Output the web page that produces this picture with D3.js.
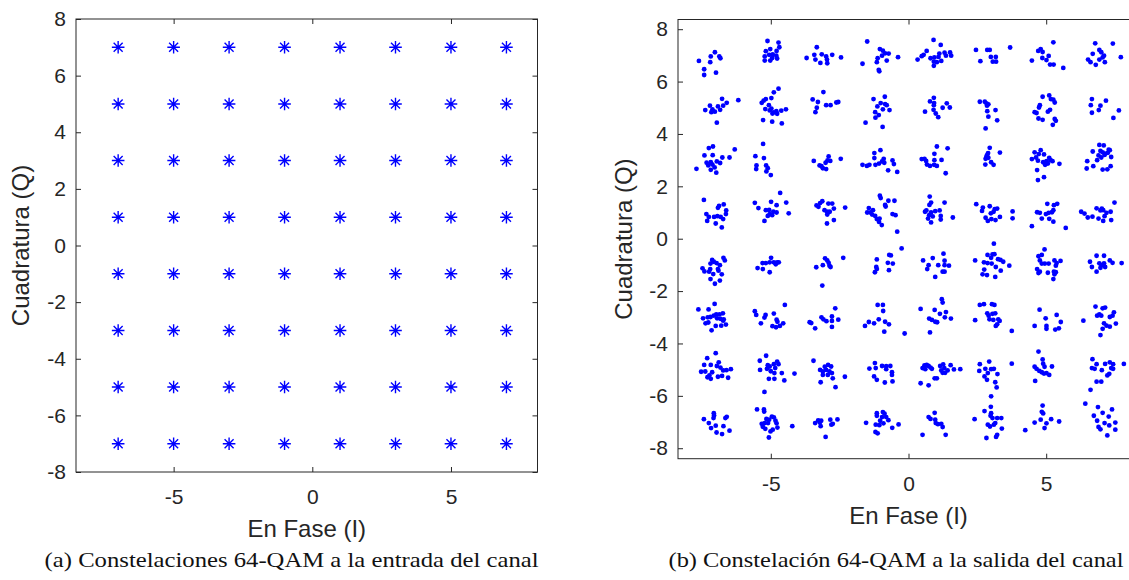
<!DOCTYPE html>
<html>
<head>
<meta charset="utf-8">
<script src="https://cdn.jsdelivr.net/npm/d3@7"></script>
<style>
  body { margin: 0; background: #fff; }
  .caption { font-family: "Liberation Serif", "DejaVu Serif", serif; fill: #111; }
  .label { font-family: "Liberation Sans", Arial, sans-serif; fill: #262626; }
</style>
</head>
<body>
<svg id="chart" width="1129" height="580"></svg>
<script>
// ideal 64-QAM levels (both I and Q)
var levels = [-7, -5, -3, -1, 1, 3, 5, 7];
var xTicks = [-5, 0, 5];
var yTicks = [-8, -6, -4, -2, 0, 2, 4, 6, 8];

// received symbols at the channel output, one list per Q row, [I, Q]
var rxRow7 = [
  [-7.61,6.79],[-7.18,6.96],[-7.03,7.12],[-6.87,6.96],[-6.83,6.89],[-7.20,6.74],[-7.42,6.47],[-7.42,6.25],[-6.99,6.34],
  [-5.12,7.55],[-4.72,7.49],[-4.69,7.31],[-5.02,7.24],[-4.79,7.17],[-5.18,7.16],[-4.93,7.04],[-5.06,7.02],[-4.80,6.99],[-5.22,6.96],[-4.95,6.90],[-4.77,6.88],[-5.02,6.80],[-5.22,6.80],
  [-3.33,7.31],[-3.70,6.90],[-3.42,7.02],[-3.15,7.04],[-2.99,6.96],[-2.77,7.02],[-2.45,6.92],[-3.38,6.84],[-3.20,6.71],[-2.96,6.84],[-2.95,6.70],
  [-1.50,7.53],[-1.67,6.68],[-1.04,7.24],[-0.93,7.18],[-1.12,6.89],[-1.15,6.74],[-0.96,6.99],[-0.85,7.08],[-0.72,7.07],[-0.79,6.80],[-0.38,6.93],[-1.08,6.45],[-1.06,6.39],
  [0.91,7.59],[1.17,7.40],[0.66,7.17],[0.33,6.84],[0.48,6.97],[0.55,7.02],[0.80,6.89],[0.94,6.92],[1.12,7.07],[1.09,6.94],[1.31,7.10],[1.36,6.99],[1.51,7.11],[1.55,6.99],[0.92,6.76],[0.92,6.60],[1.19,6.79],[1.03,6.74],
  [2.45,7.21],[2.86,7.21],[2.95,7.21],[3.69,7.30],[2.61,6.78],[2.99,6.94],[3.06,6.76],[3.17,6.94],[3.18,6.76],
  [5.26,7.50],[4.71,7.17],[4.80,7.24],[4.87,7.13],[4.48,6.80],[4.86,6.90],[5.01,6.82],[5.09,6.98],[5.14,6.65],[5.27,6.65],[5.62,6.52],
  [6.78,7.46],[7.42,7.45],[6.69,7.06],[6.93,7.21],[7.00,7.12],[7.10,6.99],[7.05,6.92],[6.52,6.84],[6.61,6.74],[6.80,6.64],[6.93,6.84],[7.13,6.74],[7.71,6.93]
];
var rxRow5 = [
  [-6.77,5.34],[-6.60,5.19],[-6.18,5.29],[-7.21,5.08],[-6.92,5.05],[-6.73,5.08],[-7.38,4.91],[-7.12,4.94],[-7.16,4.83],[-7.03,4.85],[-6.84,4.92],[-6.96,4.43],
  [-4.72,5.73],[-4.89,5.59],[-4.98,5.37],[-5.18,5.33],[-5.26,5.27],[-5.33,5.19],[-5.07,5.10],[-5.20,4.95],[-4.98,4.97],[-5.04,4.90],[-4.90,4.82],[-4.80,4.87],[-4.62,4.89],[-4.45,4.94],[-4.77,4.77],[-4.94,4.78],[-5.28,4.53],[-4.95,4.47],[-4.60,4.40],
  [-3.09,5.60],[-3.48,5.32],[-3.29,5.22],[-2.99,5.10],[-2.83,5.10],[-2.62,5.20],[-2.55,5.22],[-3.33,5.00],[-3.38,4.83],
  [-0.86,5.42],[-1.27,5.33],[-1.01,5.18],[-0.85,5.14],[-0.79,5.10],[-1.13,5.05],[-0.93,4.94],[-0.69,4.91],[-1.21,4.83],[-1.08,4.72],[-1.20,4.62],[-1.56,4.43],[-0.94,4.27],
  [0.92,5.38],[0.78,5.24],[0.93,5.18],[0.92,5.10],[1.39,5.17],[1.50,5.01],[1.24,5.00],[0.60,4.85],[0.91,4.92],[0.99,4.78],[1.08,4.64],
  [2.59,5.23],[2.77,5.23],[2.83,5.17],[2.90,5.13],[2.85,5.08],[3.16,4.91],[2.86,4.87],[2.90,4.66],[3.22,4.52],[2.80,4.21],
  [4.87,5.42],[5.11,5.47],[5.17,5.33],[5.26,5.31],[5.31,5.20],[4.77,5.10],[4.74,5.01],[4.58,4.83],[4.65,4.80],[5.06,4.85],[5.14,4.92],[4.72,4.59],[4.87,4.54],[5.31,4.57],[5.35,4.50],[5.24,4.35],
  [6.66,5.33],[6.62,5.10],[6.97,5.08],[7.17,5.27],[6.91,4.91],[6.66,4.81],[7.64,4.90],[7.44,4.61]
];
var rxRow3 = [
  [-7.10,3.52],[-7.25,3.46],[-6.31,3.41],[-7.41,3.18],[-7.11,3.19],[-6.76,3.10],[-6.50,3.10],[-7.70,2.67],[-7.33,2.90],[-7.18,2.92],[-6.96,2.95],[-6.84,2.89],[-7.27,2.80],[-7.12,2.83],[-7.04,2.72],[-7.18,2.63],[-6.98,2.52],
  [-5.28,3.62],[-5.56,3.15],[-5.25,3.08],[-5.52,2.80],[-5.53,2.66],[-5.17,2.80],[-5.11,2.69],[-5.16,2.57],[-5.00,2.43],
  [-2.90,3.14],[-3.44,2.97],[-3.23,2.80],[-3.16,2.77],[-3.01,2.90],[-2.84,2.97],[-2.46,3.05],[-3.11,2.69],[-2.99,2.66],[-2.94,2.99],
  [-1.02,3.38],[-1.24,3.27],[-1.24,3.08],[-1.67,2.82],[-1.51,2.78],[-1.42,2.82],[-1.20,2.82],[-1.07,2.87],[-0.96,2.95],[-0.90,3.05],[-0.88,2.90],[-0.58,2.99],[-0.53,2.85],[-0.74,2.61],[-0.41,2.55],
  [1.03,3.52],[1.42,3.45],[0.94,3.24],[0.48,3.04],[0.58,3.05],[0.64,2.97],[0.67,2.83],[0.78,2.78],[0.93,2.82],[1.03,2.78],[0.94,3.00],[1.20,3.01],[1.35,2.50],
  [2.95,3.47],[3.32,3.29],[2.89,3.27],[2.86,3.20],[2.83,3.14],[2.90,3.09],[2.80,3.05],[3.00,2.92],[3.09,2.82],[2.79,2.83],
  [4.80,3.38],[4.58,3.30],[4.73,3.23],[4.92,3.22],[4.48,3.04],[4.63,3.10],[4.70,2.98],[4.89,2.92],[5.01,2.96],[5.11,3.09],[5.16,3.00],[5.23,2.96],[5.06,2.87],[4.96,2.82],[5.48,2.86],[4.67,2.62],[4.92,2.35],[4.70,2.24],
  [6.93,3.58],[7.09,3.56],[7.27,3.40],[7.31,3.38],[6.69,3.33],[6.97,3.35],[7.05,3.30],[7.14,3.25],[6.90,3.18],[7.00,3.10],[7.24,3.28],[7.36,3.12],[6.85,3.00],[6.49,2.96],[6.71,2.77],[6.47,2.68],[7.05,2.64],[7.22,2.65],[7.34,2.77],[7.12,3.20]
];
var rxRow1 = [
  [-7.43,1.48],[-6.88,1.25],[-6.71,1.31],[-6.92,1.18],[-6.62,1.08],[-7.34,0.94],[-7.25,0.83],[-6.63,0.94],[-7.06,0.83],[-6.94,0.86],[-6.82,0.83],[-6.73,0.75],[-7.31,0.68],[-7.00,0.58],[-6.78,0.43],
  [-4.66,1.75],[-4.99,1.41],[-4.79,1.28],[-5.58,1.37],[-5.45,1.17],[-4.44,1.38],[-5.18,1.09],[-5.06,1.10],[-4.91,1.03],[-4.79,1.00],[-5.04,0.94],[-5.11,0.87],[-5.23,0.68],[-4.35,0.97],[-4.95,0.90],
  [-3.13,1.43],[-3.21,1.36],[-3.34,1.27],[-3.27,1.22],[-2.91,1.34],[-2.77,1.34],[-3.05,1.09],[-2.96,1.03],[-2.86,1.03],[-2.71,1.15],[-2.30,1.19],[-2.95,0.92],[-2.71,0.71],[-2.96,0.58],
  [-1.04,1.64],[-1.01,1.55],[-0.73,1.45],[-0.51,1.45],[-0.85,1.29],[-0.83,1.23],[-1.44,1.17],[-1.29,1.09],[-1.38,1.00],[-1.50,1.00],[-1.21,0.87],[-1.32,0.92],[-1.15,0.75],[-1.05,0.77],[-1.07,0.64],[-0.97,0.52],[-0.58,0.94],[-0.47,0.90],[-0.41,0.27],
  [0.77,1.61],[0.82,1.38],[0.76,1.29],[1.31,1.38],[0.65,1.08],[0.60,1.03],[0.82,1.00],[0.97,1.05],[1.13,1.08],[0.75,0.90],[0.88,0.85],[0.71,0.77],[0.82,0.62],[1.17,0.87],[1.17,0.73],[1.61,0.81],
  [2.46,1.32],[2.70,1.19],[2.67,1.06],[2.95,1.24],[3.13,1.13],[3.22,1.15],[3.09,1.03],[2.99,0.97],[2.80,0.80],[2.88,0.68],[3.01,0.75],[3.16,0.71],[3.32,0.83],[3.78,1.04],[3.78,0.78],
  [5.04,1.33],[5.28,1.28],[5.40,1.33],[4.67,1.01],[4.77,0.99],[4.99,0.94],[5.09,0.99],[5.21,1.01],[5.26,1.09],[4.84,0.77],[5.11,0.76],[5.26,0.65],[4.48,0.48],[5.71,0.41],
  [7.48,1.38],[6.83,1.16],[7.02,1.15],[7.19,0.99],[7.34,1.03],[6.97,1.08],[7.07,1.09],[6.27,1.03],[6.39,0.96],[6.51,0.81],[6.68,0.84],[6.90,0.77],[7.07,0.68],[7.36,0.71],[7.12,0.86]
];
var rxRowM1 = [
  [-6.72,-0.73],[-6.67,-0.83],[-7.13,-0.81],[-7.07,-0.88],[-7.19,-0.95],[-6.97,-0.93],[-6.85,-1.01],[-7.48,-1.13],[-7.41,-1.25],[-7.24,-1.26],[-7.20,-1.16],[-6.92,-1.16],[-7.09,-1.35],[-6.78,-1.36],[-7.19,-1.54],[-7.03,-1.72],[-6.85,-1.60],[-6.90,-1.22],
  [-4.99,-0.73],[-5.30,-0.93],[-5.18,-0.93],[-5.04,-0.90],[-4.89,-0.90],[-4.77,-0.90],[-4.71,-0.90],[-4.82,-0.98],[-5.48,-1.12],[-5.29,-1.16],[-5.04,-1.28],
  [-3.03,-0.75],[-2.95,-0.83],[-2.90,-0.92],[-3.11,-1.01],[-2.87,-1.03],[-2.83,-1.08],[-3.35,-1.09],[-2.37,-0.73],[-3.13,-1.79],
  [-0.25,-0.37],[-0.70,-0.62],[-0.64,-0.64],[-1.15,-0.79],[-0.75,-0.92],[-0.57,-0.95],[-1.17,-1.08],[-1.15,-1.16],[-1.22,-1.28],[-0.71,-1.20],
  [1.27,-0.57],[0.88,-0.74],[0.53,-0.83],[1.31,-0.84],[0.73,-1.01],[1.08,-1.01],[1.31,-1.01],[1.47,-1.03],[0.68,-1.16],[1.24,-1.26],[1.31,-1.26],[0.97,-1.46],
  [3.10,-0.19],[2.87,-0.62],[3.05,-0.60],[3.12,-0.59],[3.00,-0.73],[3.25,-0.78],[3.34,-0.81],[3.44,-0.88],[3.66,-1.03],[2.42,-0.83],[2.74,-0.90],[2.87,-0.93],[3.02,-0.95],[3.17,-1.08],[3.35,-1.22],[2.75,-1.18],[2.69,-1.36],[2.85,-1.39],[3.15,-1.46],
  [4.94,-0.41],[4.84,-0.62],[4.72,-0.67],[4.77,-0.83],[4.84,-0.95],[4.95,-0.95],[5.09,-0.95],[5.30,-0.83],[5.52,-0.85],[5.38,-0.93],[5.35,-1.03],[4.67,-1.16],[4.77,-1.26],[5.06,-1.30],[5.28,-1.26],[5.35,-1.28],[5.30,-1.36],[5.26,-1.54],[4.72,-1.31],
  [6.83,-0.65],[7.10,-0.65],[6.59,-0.88],[6.66,-1.08],[6.93,-0.94],[7.01,-1.01],[7.10,-0.94],[6.97,-1.11],[7.14,-1.08],[6.83,-1.26],[7.31,-0.83],[7.41,-0.92],[7.74,-0.93]
];
var rxRowM3 = [
  [-7.04,-2.49],[-7.63,-2.70],[-7.26,-2.70],[-7.46,-3.04],[-7.29,-3.00],[-7.19,-2.99],[-7.07,-2.94],[-6.98,-2.89],[-6.86,-2.89],[-6.74,-2.85],[-6.95,-3.04],[-6.83,-3.06],[-6.71,-3.08],[-7.37,-3.23],[-7.27,-3.20],[-7.00,-3.33],[-7.15,-3.50],[-6.73,-3.13],[-6.63,-3.28],[-6.80,-3.32],
  [-5.58,-2.77],[-5.53,-2.91],[-5.23,-3.01],[-5.19,-2.91],[-4.89,-2.86],[-4.49,-2.53],[-5.36,-3.23],[-4.79,-3.09],[-4.76,-3.17],[-4.94,-3.34],[-4.81,-3.38],[-4.67,-3.33],[-4.55,-3.23],
  [-2.66,-2.66],[-2.78,-2.97],[-2.55,-3.09],[-3.16,-3.00],[-3.09,-3.08],[-2.98,-3.15],[-2.78,-3.14],[-2.78,-3.37],[-3.59,-3.19],[-3.53,-3.22],[-3.39,-3.42],
  [-1.12,-2.53],[-0.93,-2.53],[-0.92,-2.76],[-1.08,-3.08],[-0.85,-3.17],[-0.71,-3.27],[-0.88,-3.55],[-1.25,-3.23],[-1.44,-3.18],[-1.58,-3.33],[-0.14,-3.62],
  [1.21,-2.31],[1.24,-2.44],[0.44,-2.68],[0.95,-2.72],[1.36,-2.80],[1.14,-2.87],[0.75,-3.05],[0.85,-3.10],[0.97,-3.17],[1.04,-3.19],[1.32,-3.00],[1.54,-3.05],[0.78,-3.58],
  [2.59,-2.53],[2.74,-2.50],[3.03,-2.50],[3.12,-2.53],[2.86,-2.85],[3.05,-2.87],[3.15,-2.85],[2.91,-2.94],[2.94,-3.08],[3.08,-3.10],[3.26,-3.08],[3.31,-3.14],[3.22,-3.27],[3.17,-3.33],[2.42,-3.11],[3.75,-3.52],
  [4.76,-2.71],[4.98,-3.04],[5.38,-2.91],[5.53,-3.18],[4.58,-3.33],[5.01,-3.33],[5.01,-3.44],[5.33,-3.47],[5.46,-3.42],
  [6.79,-2.59],[7.05,-2.66],[7.14,-2.63],[6.93,-2.89],[7.00,-2.94],[6.85,-2.94],[7.31,-2.99],[7.41,-2.94],[7.46,-2.81],[6.35,-3.13],[7.10,-3.23],[7.19,-3.32],[7.31,-3.36],[7.53,-3.24],[7.05,-3.44],[6.97,-3.68]
];
var rxRowM5 = [
  [-7.00,-4.37],[-7.31,-4.56],[-7.42,-4.82],[-7.18,-4.82],[-6.89,-4.72],[-6.96,-4.86],[-6.83,-4.92],[-7.53,-5.08],[-7.38,-5.07],[-7.13,-5.10],[-7.23,-5.22],[-7.18,-5.35],[-7.30,-5.29],[-6.92,-5.27],[-6.77,-5.24],[-6.55,-5.31],[-6.45,-4.98],[-6.61,-5.02],[-6.73,-5.03],
  [-5.17,-4.47],[-5.40,-4.66],[-5.39,-5.01],[-5.11,-4.83],[-5.04,-4.88],[-4.89,-4.79],[-4.77,-4.69],[-4.72,-4.79],[-4.84,-4.94],[-5.14,-4.97],[-5.00,-5.06],[-4.87,-5.13],[-4.60,-5.13],[-5.07,-5.35],[-4.87,-5.35],[-4.51,-5.41],[-5.23,-5.85],[-4.14,-5.15],
  [-3.45,-4.66],[-2.92,-4.82],[-2.81,-4.88],[-3.04,-4.89],[-3.21,-5.01],[-3.11,-5.07],[-2.99,-5.01],[-2.87,-5.07],[-2.78,-5.13],[-2.93,-5.20],[-2.75,-5.33],[-3.19,-5.48],[-2.65,-5.67],[-2.31,-5.27],[-3.11,-5.20],
  [-1.22,-4.75],[-1.42,-4.96],[-1.19,-4.94],[-0.96,-4.86],[-0.81,-4.87],[-0.66,-4.86],[-0.81,-4.98],[-0.60,-5.10],[-0.60,-5.20],[-1.25,-5.26],[-1.15,-5.39],[-0.86,-5.49],[-0.58,-5.45],
  [0.58,-4.84],[0.66,-4.82],[0.73,-4.86],[0.80,-4.92],[0.85,-4.97],[0.51,-4.94],[0.61,-4.98],[1.15,-4.86],[1.26,-4.80],[1.30,-4.94],[1.42,-5.03],[1.53,-4.83],[1.65,-4.99],[1.19,-5.03],[1.24,-5.12],[1.33,-5.12],[1.88,-4.98],[0.95,-5.33],[1.03,-5.33],[0.44,-5.52],[0.73,-5.60],
  [2.93,-4.69],[2.59,-4.79],[2.57,-5.05],[2.79,-4.97],[3.00,-4.98],[3.10,-4.97],[2.88,-5.13],[2.76,-5.26],[2.85,-5.39],[3.23,-5.17],[3.15,-5.48],[3.20,-5.68],[3.00,-6.02],[3.75,-4.77],
  [4.72,-4.31],[4.87,-4.61],[4.89,-4.77],[4.94,-4.89],[4.58,-4.89],[4.65,-4.97],[4.75,-5.05],[4.84,-5.10],[4.92,-5.15],[5.01,-5.13],[5.11,-5.20],[5.21,-4.88],[4.60,-5.43],
  [6.68,-4.60],[6.83,-4.79],[7.14,-4.78],[7.31,-4.72],[7.43,-4.79],[7.82,-4.78],[6.66,-4.94],[6.76,-4.97],[7.02,-5.02],[7.36,-4.94],[7.43,-4.97],[7.29,-5.16],[7.22,-5.22],[6.83,-5.46],[7.00,-5.46],[6.61,-5.77]
];
var rxRowM7 = [
  [-7.43,-6.89],[-7.25,-7.04],[-7.07,-6.66],[-7.06,-6.75],[-7.08,-6.85],[-7.17,-7.23],[-7.00,-7.14],[-6.97,-7.40],[-6.77,-7.46],[-6.72,-7.16],[-6.65,-6.85],[-6.60,-6.80],[-6.50,-7.33],
  [-5.50,-6.52],[-5.25,-6.52],[-5.24,-6.60],[-4.96,-6.79],[-4.89,-6.82],[-5.16,-6.88],[-5.06,-6.91],[-4.83,-6.95],[-5.33,-7.07],[-5.22,-7.04],[-5.10,-7.04],[-4.79,-7.05],[-5.29,-7.18],[-5.20,-7.26],[-4.93,-7.29],[-5.01,-7.36],[-5.07,-7.59],[-4.76,-7.21],[-4.22,-7.16],
  [-3.39,-7.04],[-3.28,-6.94],[-3.22,-7.02],[-3.17,-6.95],[-3.19,-7.16],[-2.84,-6.91],[-2.80,-7.10],[-2.75,-7.07],[-2.58,-6.90],[-3.01,-7.57],
  [-1.15,-6.66],[-0.93,-6.62],[-0.87,-6.68],[-1.15,-6.76],[-0.96,-6.81],[-0.81,-6.81],[-0.73,-6.93],[-1.03,-6.95],[-0.91,-7.05],[-1.19,-7.10],[-1.06,-7.12],[-1.54,-7.03],[-0.59,-7.22],[-0.36,-7.09],[-1.20,-7.38],[-1.12,-7.43],
  [0.95,-6.65],[0.73,-6.81],[0.80,-6.88],[0.97,-6.91],[0.99,-7.04],[1.07,-7.08],[1.19,-7.07],[1.24,-7.19],[0.51,-7.49],[1.35,-7.49],
  [2.99,-6.42],[2.76,-6.58],[3.00,-6.66],[2.40,-6.89],[2.98,-6.76],[3.05,-6.85],[3.22,-6.85],[3.15,-7.04],[3.37,-6.85],[2.88,-7.10],[3.10,-7.10],[3.39,-7.25],[2.96,-7.17],[3.22,-7.49],[3.18,-7.57],[2.83,-7.61],
  [4.87,-6.37],[4.84,-6.61],[4.89,-6.67],[4.58,-7.02],[4.80,-6.91],[5.01,-7.05],[5.18,-6.89],[5.47,-6.98],[4.94,-7.23],[4.24,-7.31],
  [6.42,-6.30],[6.88,-6.43],[7.39,-6.52],[7.05,-6.65],[7.27,-6.79],[6.73,-6.76],[6.85,-6.95],[7.12,-7.04],[7.51,-7.02],[6.90,-7.19],[6.97,-7.28],[7.29,-7.13],[7.51,-7.29],[7.22,-7.51]
];

var captionA = "(a) Constelaciones 64-QAM a la entrada del canal",
    captionB = "(b) Constelación 64-QAM a la salida del canal",
    xLabel = "En Fase (I)",
    yLabel = "Cuadratura (Q)";

var svg = d3.select("#chart"),
    blue = "#0000ff",
    ink = "#262626",
    tickFont = "Liberation Sans, Arial, sans-serif";

var fmt = function(d) { return String(d); };

// axes box with MATLAB-like inner ticks on all four sides
function drawAxes(p) {
    var x = d3.scaleLinear().domain(p.xDomain).range([p.left, p.right]),
        y = d3.scaleLinear().domain(p.yDomain).range([p.bottom, p.top]);
    var g = svg.append("g");

    g.append("g")
        .attr("transform", "translate(0," + p.bottom + ")")
        .call(d3.axisBottom(x).tickValues(xTicks).tickSize(-5).tickSizeOuter(0).tickPadding(17).tickFormat(fmt));
    g.append("g")
        .attr("transform", "translate(0," + p.top + ")")
        .call(d3.axisTop(x).tickValues(xTicks).tickSize(-5).tickSizeOuter(0).tickFormat(""));
    g.append("g")
        .attr("transform", "translate(" + p.left + ",0)")
        .call(d3.axisLeft(y).tickValues(yTicks).tickSize(-5).tickSizeOuter(0).tickPadding(10).tickFormat(fmt));
    g.append("g")
        .attr("transform", "translate(" + p.right + ",0)")
        .call(d3.axisRight(y).tickValues(yTicks).tickSize(-5).tickSizeOuter(0).tickFormat(""));

    g.selectAll(".domain").remove();
    g.selectAll(".tick line").attr("stroke", ink);
    g.selectAll(".tick text")
        .attr("fill", ink)
        .attr("font-size", 21)
        .attr("font-family", tickFont);

    g.append("rect")
        .attr("x", p.left).attr("y", p.top)
        .attr("width", p.right - p.left).attr("height", p.bottom - p.top)
        .attr("fill", "none").attr("stroke", ink).attr("stroke-width", 1);

    svg.append("text").attr("class", "label")
        .attr("x", (p.left + p.right) / 2).attr("y", p.bottom + 57)
        .attr("dy", "0.35em").attr("text-anchor", "middle")
        .attr("font-size", 24).text(xLabel);

    svg.append("text").attr("class", "label")
        .attr("transform", "translate(" + p.yLabelX + "," + ((p.top + p.bottom) / 2) + ") rotate(-90)")
        .attr("dy", "0.35em").attr("text-anchor", "middle")
        .attr("font-size", 24).text(yLabel);

    svg.append("text").attr("class", "caption")
        .attr("x", p.capX).attr("y", p.capY)
        .attr("font-size", 21)
        .attr("textLength", p.capW).attr("lengthAdjust", "spacingAndGlyphs")
        .text(p.caption);

    return { x: x, y: y, g: g };
}

// (a) ideal constellation
var left = drawAxes({
    xDomain: [-8.52, 8.12], yDomain: [-8, 8],
    left: 76, right: 537.5, top: 19, bottom: 472,
    yLabelX: 21, caption: captionA, capX: 44.6, capY: 567, capW: 494
});

var ideal = [];
levels.forEach(function(q) {
    levels.forEach(function(i) { ideal.push([i, q]); });
});

var star = "M-6.3,0H6.3M0,-6.3V6.3M-4.5,-4.5L4.5,4.5M-4.5,4.5L4.5,-4.5";
left.g.selectAll(".star")
    .data(ideal)
    .enter().append("path")
    .attr("class", "star")
    .attr("transform", function(d) { return "translate(" + left.x(d[0]) + "," + left.y(d[1]) + ")"; })
    .attr("d", star)
    .attr("stroke", blue)
    .attr("stroke-width", 1.4)
    .attr("fill", "none");

// (b) received constellation
var right = drawAxes({
    xDomain: [-8.37, 8.37], yDomain: [-8.4, 8.37],
    left: 678, right: 1139, top: 19.5, bottom: 458.7,
    yLabelX: 624, caption: captionB, capX: 668.5, capY: 567, capW: 455
});

var received = [].concat(rxRow7, rxRow5, rxRow3, rxRow1, rxRowM1, rxRowM3, rxRowM5, rxRowM7);

right.g.selectAll(".dot")
    .data(received)
    .enter().append("circle")
    .attr("class", "dot")
    .attr("cx", function(d) { return right.x(d[0]); })
    .attr("cy", function(d) { return right.y(d[1]); })
    .attr("r", 2.4)
    .attr("fill", blue);
</script>
</body>
</html>
